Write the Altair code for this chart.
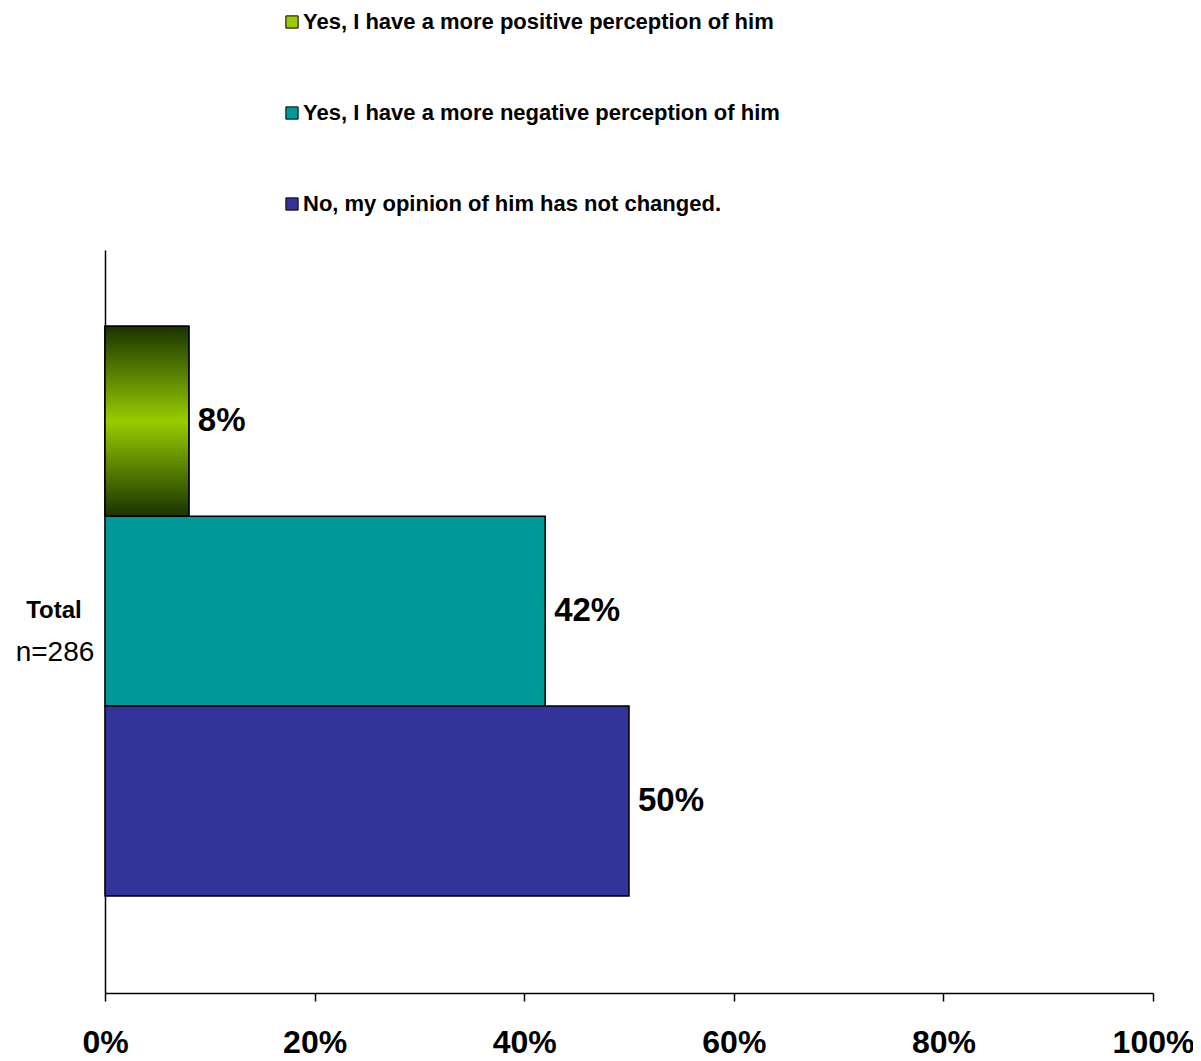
import altair as alt
import pandas as pd

categories = ["Total"]
sample_sizes = ["n=286"]
series = [
    "Yes, I have a more positive perception of him",
    "Yes, I have a more negative perception of him",
    "No, my opinion of him has not changed.",
]
values = [0.08, 0.42, 0.50]
colors = ["#99CC00", "#009999", "#333399"]
x_ticks = [0, 0.2, 0.4, 0.6, 0.8, 1.0]

df = pd.DataFrame({"cat": categories * len(series), "series": series, "value": values})
lab = pd.DataFrame({"cat": categories, "n": sample_sizes})

FONT = "Liberation Sans"

y_enc = alt.Y("cat:N", title=None,
              scale=alt.Scale(paddingInner=0, paddingOuter=0.152, align=0.44),
              axis=alt.Axis(labels=False, ticks=False, domainColor="black", domainWidth=1.5))
yoff = alt.YOffset("series:N", sort=series, scale=alt.Scale(paddingInner=0, paddingOuter=0))
x_enc = alt.X("value:Q", title=None,
              scale=alt.Scale(domain=[0, 1]),
              axis=alt.Axis(values=x_ticks, format="%", grid=False, domainColor="black",
                            domainWidth=1.5, tickColor="black", tickWidth=1.5, tickSize=8,
                            labelFontSize=32, labelFontWeight="bold", labelFont=FONT,
                            labelColor="black", labelPadding=26, labelFlush=False))

bars = alt.Chart(df).mark_bar(stroke="black", strokeWidth=1.5).encode(
    x=x_enc, y=y_enc, yOffset=yoff,
    color=alt.Color("series:N", sort=series,
                    scale=alt.Scale(domain=series, range=colors),
                    legend=alt.Legend(title=None, orient="none", legendX=176, legendY=-239,
                                      direction="vertical", symbolType="square", symbolSize=150,
                                      symbolStrokeColor="black", symbolStrokeWidth=1,
                                      labelFont=FONT, labelFontSize=22, labelFontWeight="bold",
                                      labelColor="black", labelOffset=0, rowPadding=69,
                                      labelLimit=800, padding=0)),
)

grad = alt.Chart(df).transform_filter(alt.datum.series == series[0]).mark_bar(
    stroke="black", strokeWidth=1.5,
    color=alt.Gradient(gradient="linear", x1=0, x2=0, y1=0, y2=1,
                       stops=[alt.GradientStop(color="#1a3300", offset=0),
                              alt.GradientStop(color="#99CC00", offset=0.5),
                              alt.GradientStop(color="#1a3300", offset=1)]),
).encode(x=x_enc, y=y_enc, yOffset=yoff)

vals = alt.Chart(df).mark_text(align="left", baseline="middle", dx=9, fontSize=33,
                               fontWeight="bold", font=FONT, color="black").encode(
    x="value:Q", y=y_enc, yOffset=yoff, text=alt.Text("value:Q", format=".0%"))

t1 = alt.Chart(lab).mark_text(align="center", baseline="middle", fontSize=24, fontWeight="bold",
                              font=FONT, color="black", dy=0).encode(
    x=alt.value(-51), y=y_enc, text="cat:N")
t2 = alt.Chart(lab).mark_text(align="center", baseline="middle", fontSize=28,
                              font=FONT, color="black", dy=42).encode(
    x=alt.value(-50), y=y_enc, text="n:N")

chart = alt.layer(bars, grad, vals, t1, t2).properties(
    width=1048, height=743,
    autosize=alt.AutoSizeParams(type="none"),
    padding={"left": 97, "top": 242, "right": 40, "bottom": 70},
).configure(background="white", view=alt.ViewConfig(stroke=None))

chart.save("out.html", embed_options={"renderer": "svg", "actions": False})
